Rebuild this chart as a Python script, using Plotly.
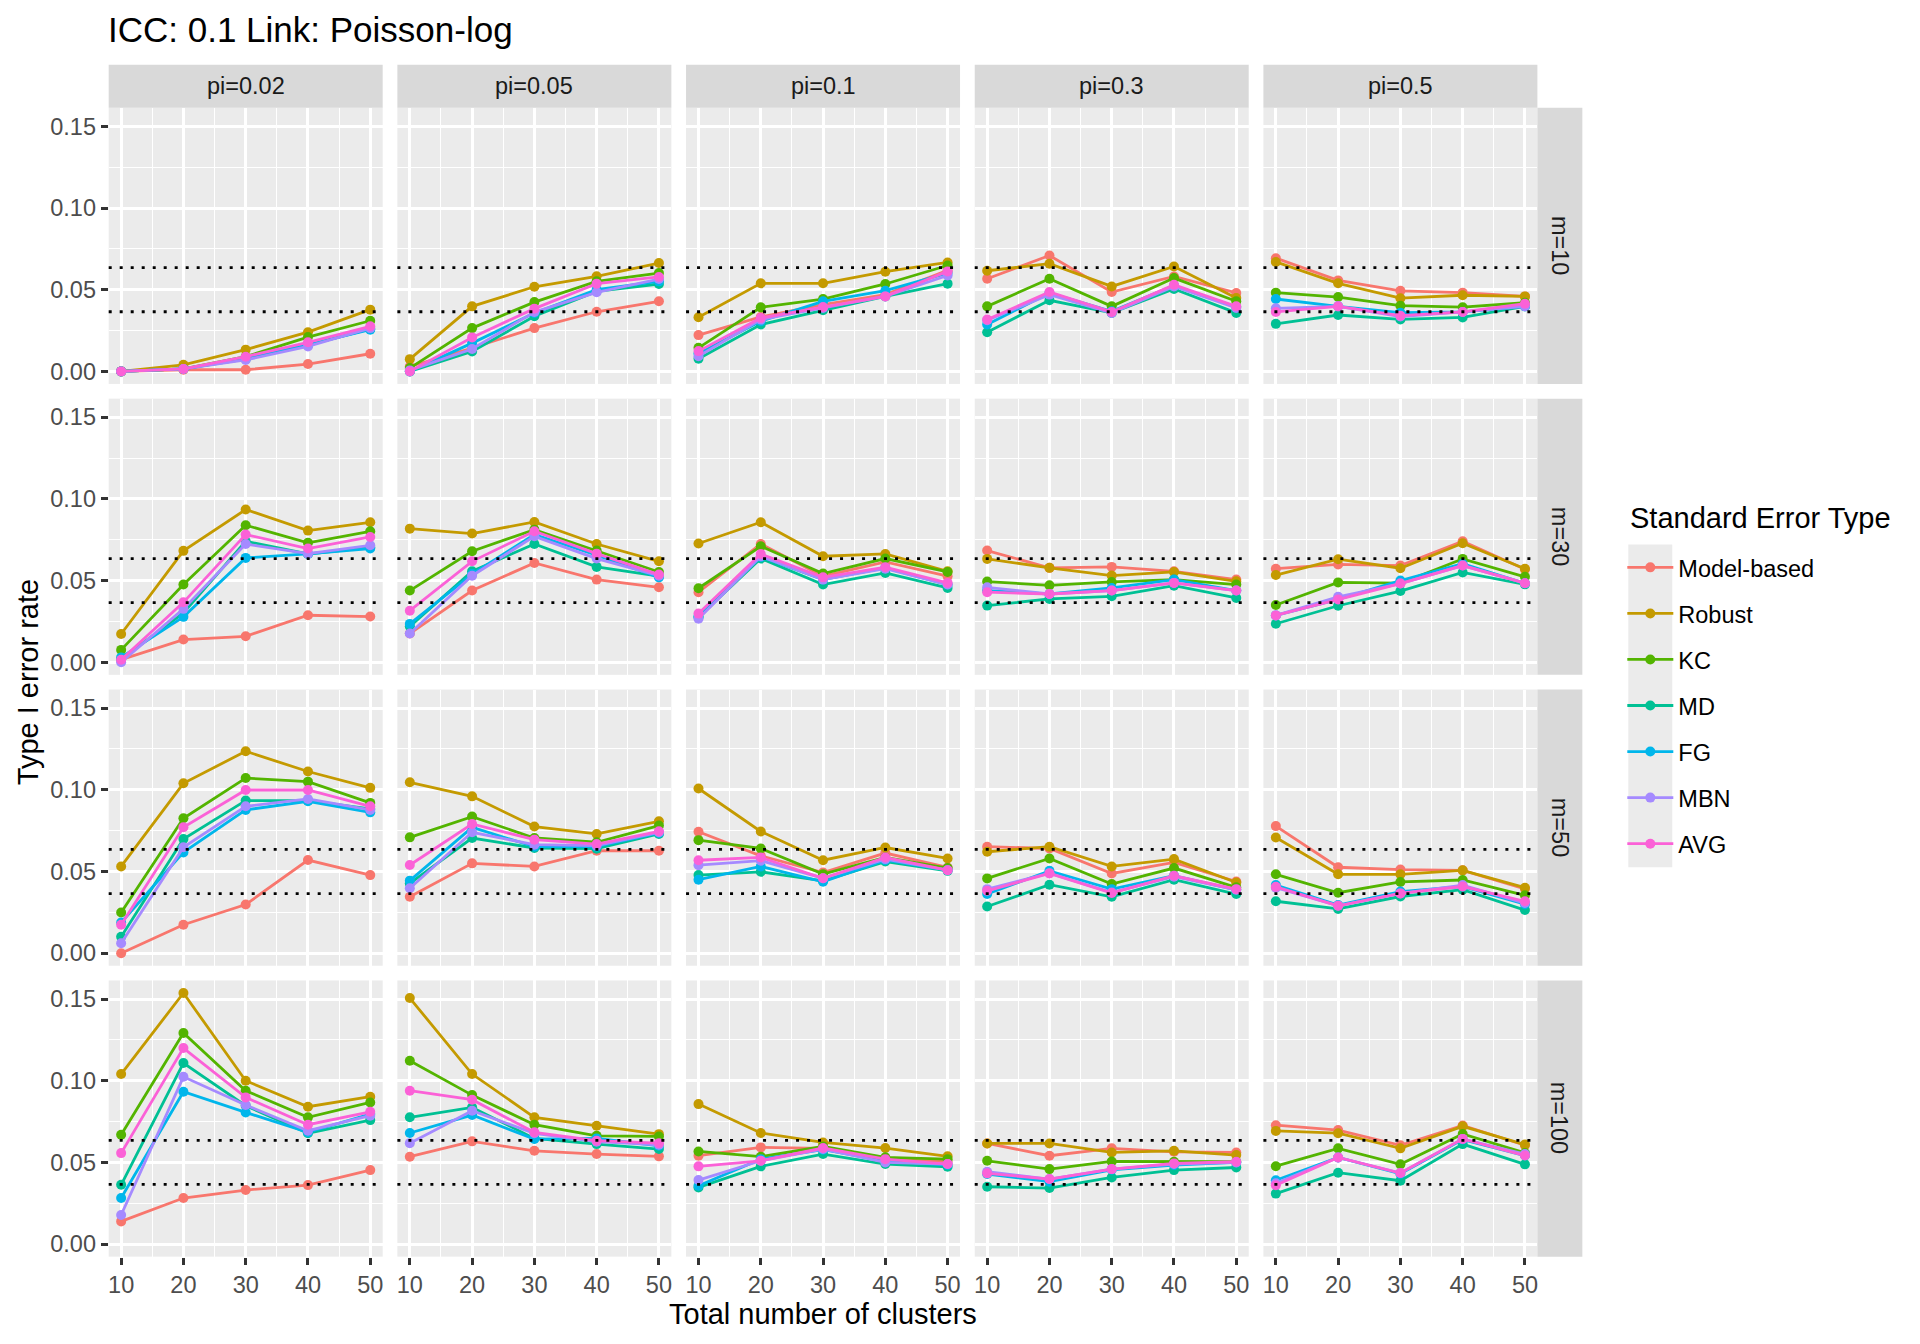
import plotly.graph_objects as go

# ---------------- data ----------------
CLUSTERS = [10, 20, 30, 40, 50]
PI_LEVELS = ["pi=0.02", "pi=0.05", "pi=0.1", "pi=0.3", "pi=0.5"]
M_LEVELS = ["m=10", "m=30", "m=50", "m=100"]
SE_TYPES = ["Model-based", "Robust", "KC", "MD", "FG", "MBN", "AVG"]
SE_COLORS = ["#F8766D", "#C49A00", "#53B400", "#00C094", "#00B6EB", "#A58AFF", "#FB61D7"]
NOMINAL_BOUNDS = [0.0365, 0.0635]
Y_TICKS = [0.0, 0.05, 0.10, 0.15]
Y_MINOR = [0.025, 0.075, 0.125]
X_MINOR = [15, 25, 35, 45]

# each series: rows m=10,30,50,100 ; within row: pi=0.02,0.05,0.1,0.3,0.5 ; values at 10..50 clusters
MODEL_BASED = [
    [[0, 0.001, 0.001, 0.0045, 0.0108], [0.003, 0.0143, 0.0265, 0.0365, 0.0429],
     [0.0222, 0.0333, 0.0409, 0.047, 0.0618], [0.0567, 0.0709, 0.0486, 0.0581, 0.048],
     [0.0693, 0.0557, 0.0493, 0.0482, 0.0459]],
    [[0.0016, 0.0139, 0.0159, 0.0288, 0.028], [0.0176, 0.0439, 0.0608, 0.0506, 0.0459],
     [0.0429, 0.0724, 0.0527, 0.0614, 0.0527], [0.0684, 0.0578, 0.0584, 0.0557, 0.0506],
     [0.0573, 0.0599, 0.0592, 0.0741, 0.0569]],
    [[0, 0.0174, 0.0298, 0.057, 0.0478], [0.0345, 0.055, 0.0531, 0.0627, 0.0627],
     [0.0743, 0.0596, 0.0494, 0.0613, 0.0525], [0.0652, 0.0641, 0.0488, 0.0556, 0.0439],
     [0.0778, 0.0526, 0.0512, 0.0507, 0.0394]],
    [[0.0139, 0.0282, 0.0331, 0.0361, 0.0453], [0.0535, 0.0629, 0.0571, 0.0551, 0.0537],
     [0.0541, 0.0592, 0.0586, 0.052, 0.0504], [0.0616, 0.0541, 0.0586, 0.0565, 0.0561],
     [0.0728, 0.0698, 0.0605, 0.0726, 0.0605]],
]
ROBUST = [
    [[0, 0.004, 0.0133, 0.024, 0.0378], [0.0075, 0.0398, 0.0518, 0.0582, 0.0663],
     [0.0331, 0.0539, 0.0539, 0.061, 0.0667], [0.0616, 0.0659, 0.052, 0.0642, 0.0449],
     [0.067, 0.0539, 0.0448, 0.0466, 0.0459]],
    [[0.0173, 0.0682, 0.0935, 0.0806, 0.0857], [0.0818, 0.0788, 0.0859, 0.0724, 0.0618],
     [0.0727, 0.0857, 0.0649, 0.0663, 0.0557], [0.0633, 0.0578, 0.0531, 0.0553, 0.0496],
     [0.0534, 0.0631, 0.0576, 0.0729, 0.0573]],
    [[0.0531, 0.104, 0.1236, 0.1112, 0.1012], [0.1046, 0.096, 0.0775, 0.073, 0.0807],
     [0.1008, 0.0745, 0.0569, 0.0647, 0.058], [0.0621, 0.0652, 0.0531, 0.0576, 0.0433],
     [0.0708, 0.0483, 0.0483, 0.0507, 0.0401]],
    [[0.1041, 0.1537, 0.1, 0.0841, 0.0902], [0.1506, 0.1041, 0.0776, 0.0724, 0.0673],
     [0.0857, 0.068, 0.0622, 0.0588, 0.0537], [0.0616, 0.0616, 0.0561, 0.0571, 0.0545],
     [0.0693, 0.0679, 0.0586, 0.0721, 0.0609]],
]
KC = [
    [[0, 0.0015, 0.009, 0.021, 0.031], [0.002, 0.0265, 0.0424, 0.0551, 0.0602],
     [0.0144, 0.0392, 0.0443, 0.0535, 0.0648], [0.0398, 0.0567, 0.0398, 0.0571, 0.0429],
     [0.0482, 0.0455, 0.0402, 0.0393, 0.042]],
    [[0.0076, 0.0476, 0.0839, 0.0731, 0.0802], [0.0439, 0.068, 0.0812, 0.0684, 0.0553],
     [0.0453, 0.071, 0.0543, 0.0635, 0.0553], [0.0494, 0.0471, 0.0492, 0.0506, 0.0476],
     [0.0351, 0.0489, 0.0484, 0.0633, 0.0523]],
    [[0.0249, 0.0826, 0.1072, 0.105, 0.092], [0.0709, 0.0836, 0.0705, 0.0679, 0.0781],
     [0.0692, 0.0641, 0.0484, 0.0586, 0.0521], [0.0458, 0.058, 0.0423, 0.0521, 0.0403],
     [0.0483, 0.037, 0.0436, 0.0448, 0.0354]],
    [[0.0669, 0.1292, 0.0939, 0.0776, 0.0867], [0.1122, 0.0912, 0.0731, 0.0663, 0.0659],
     [0.0567, 0.0535, 0.0598, 0.0531, 0.052], [0.051, 0.0459, 0.0506, 0.0504, 0.0504],
     [0.0477, 0.0586, 0.0488, 0.0674, 0.0558]],
]
MD = [
    [[0, 0.0015, 0.0075, 0.016, 0.026], [0, 0.0122, 0.0337, 0.049, 0.0535],
     [0.0077, 0.0287, 0.0374, 0.0459, 0.0537], [0.024, 0.0435, 0.0358, 0.0504, 0.0358],
     [0.0291, 0.0345, 0.0318, 0.033, 0.0398]],
    [[0.002, 0.0302, 0.0741, 0.0663, 0.0704], [0.022, 0.0557, 0.0724, 0.0584, 0.0527],
     [0.0276, 0.0635, 0.0476, 0.0547, 0.0455], [0.0347, 0.0388, 0.0404, 0.0469, 0.0394],
     [0.0236, 0.0346, 0.0436, 0.055, 0.0477]],
    [[0.01, 0.0699, 0.0934, 0.0934, 0.0883], [0.0427, 0.0705, 0.0644, 0.064, 0.073],
     [0.0478, 0.0498, 0.0443, 0.0561, 0.0504], [0.0286, 0.0419, 0.0345, 0.045, 0.0362],
     [0.0318, 0.0271, 0.0347, 0.0389, 0.0264]],
    [[0.0363, 0.1108, 0.0847, 0.0678, 0.0759], [0.0776, 0.0837, 0.0647, 0.0612, 0.0582],
     [0.0347, 0.0476, 0.0551, 0.049, 0.0473], [0.0351, 0.0343, 0.0408, 0.0453, 0.0469],
     [0.0309, 0.0437, 0.0388, 0.0612, 0.0488]],
]
FG = [
    [[0, 0.0015, 0.008, 0.0163, 0.0255], [0, 0.0173, 0.0357, 0.05, 0.0551],
     [0.011, 0.0307, 0.0429, 0.0494, 0.0602], [0.0287, 0.048, 0.0368, 0.0526, 0.0394],
     [0.0443, 0.0398, 0.0359, 0.0364, 0.0398]],
    [[0.003, 0.0278, 0.0639, 0.0663, 0.0696], [0.0235, 0.054, 0.0782, 0.0655, 0.052],
     [0.0282, 0.0645, 0.0506, 0.0578, 0.0476], [0.0439, 0.0418, 0.0455, 0.0506, 0.0439],
     [0.0287, 0.0385, 0.05, 0.0603, 0.0484]],
    [[0.0188, 0.0617, 0.0877, 0.093, 0.0862], [0.0444, 0.077, 0.0652, 0.0652, 0.0736],
     [0.045, 0.0531, 0.0437, 0.0569, 0.0508], [0.0362, 0.0504, 0.0392, 0.0474, 0.0388],
     [0.0417, 0.0295, 0.0377, 0.0408, 0.03]],
    [[0.0282, 0.0933, 0.0806, 0.0684, 0.0796], [0.068, 0.079, 0.0643, 0.0647, 0.0602],
     [0.0357, 0.052, 0.0578, 0.051, 0.0484], [0.0429, 0.0382, 0.0455, 0.0484, 0.05],
     [0.0391, 0.053, 0.043, 0.064, 0.0542]],
]
MBN = [
    [[0, 0.0015, 0.007, 0.0153, 0.0265], [0.0006, 0.0137, 0.0363, 0.0484, 0.0565],
     [0.0093, 0.0317, 0.0388, 0.0459, 0.0587], [0.0313, 0.047, 0.0358, 0.052, 0.0388],
     [0.0386, 0.0398, 0.0336, 0.0364, 0.0398]],
    [[0, 0.0327, 0.0724, 0.0665, 0.0716], [0.0176, 0.053, 0.0771, 0.0635, 0.053],
     [0.0267, 0.0649, 0.0506, 0.0573, 0.0476], [0.0459, 0.0418, 0.0439, 0.0486, 0.0439],
     [0.0287, 0.0401, 0.0482, 0.0592, 0.0484]],
    [[0.0061, 0.0648, 0.0899, 0.0944, 0.0877], [0.0398, 0.074, 0.0664, 0.0658, 0.074],
     [0.0539, 0.0566, 0.0459, 0.0576, 0.0508], [0.0392, 0.049, 0.0372, 0.0468, 0.0388],
     [0.0401, 0.029, 0.0366, 0.0417, 0.0307]],
    [[0.0178, 0.1024, 0.0851, 0.0694, 0.0786], [0.0618, 0.0816, 0.0678, 0.0627, 0.0608],
     [0.0392, 0.051, 0.0582, 0.05, 0.049], [0.0443, 0.0398, 0.0459, 0.049, 0.05],
     [0.0372, 0.053, 0.0435, 0.0644, 0.0551]],
]
AVG = [
    [[0, 0.0015, 0.009, 0.0178, 0.0276], [0, 0.0208, 0.0384, 0.0537, 0.0578],
     [0.0124, 0.0327, 0.0394, 0.0459, 0.0612], [0.0317, 0.0486, 0.0364, 0.053, 0.0398],
     [0.0364, 0.0398, 0.0341, 0.0364, 0.0414]],
    [[0.0016, 0.0367, 0.0782, 0.0696, 0.0767], [0.0316, 0.0618, 0.0802, 0.0665, 0.0537],
     [0.0298, 0.0663, 0.052, 0.0582, 0.0486], [0.0429, 0.0418, 0.0439, 0.0486, 0.0439],
     [0.0287, 0.0385, 0.0482, 0.0592, 0.0484]],
    [[0.0174, 0.0771, 0.0999, 0.0999, 0.0899], [0.054, 0.0791, 0.0695, 0.0668, 0.0746],
     [0.0569, 0.0586, 0.0459, 0.0586, 0.0508], [0.0382, 0.0488, 0.0368, 0.0474, 0.0392],
     [0.0406, 0.029, 0.0366, 0.0408, 0.0318]],
    [[0.0557, 0.12, 0.0898, 0.0731, 0.081], [0.0939, 0.0884, 0.0684, 0.0633, 0.0618],
     [0.0476, 0.051, 0.0588, 0.052, 0.049], [0.0433, 0.0398, 0.0459, 0.0494, 0.0504],
     [0.036, 0.053, 0.0435, 0.0644, 0.0542]],
]
SERIES = [MODEL_BASED, ROBUST, KC, MD, FG, MBN, AVG]

# ---------------- layout constants (page pixels) ----------------
PAGE_W, PAGE_H = 1920, 1344
BODY = 8                      # default browser body margin
W, H = PAGE_W - 2 * BODY, PAGE_H - 2 * BODY
FONT = "Liberation Sans, Arial, sans-serif"
PANEL_L, PANEL_R = 107.8, 1538.0
PANEL_T, PANEL_B = 107.8, 1257.6
GAP = 14.7
NC, NR = len(PI_LEVELS), len(M_LEVELS)
PW = (PANEL_R - PANEL_L - GAP * (NC - 1)) / NC
PH = (PANEL_B - PANEL_T - GAP * (NR - 1)) / NR
STRIP_H = 43.0
STRIP_W = 45.0
LW = 2.8
TICK_FS = 23.5
TITLE_FS = 35
AXT_FS = 29

def px(x):
    return (x - BODY) / W

def py(y):
    return 1 - (y - BODY) / H

all_vals = [v for s in SERIES for row in s for pan in row for v in pan]
lo, hi = min(all_vals), max(all_vals)
pad = 0.05 * (hi - lo)
YR = [lo - pad, hi + pad]
XR = [CLUSTERS[0] - 0.05 * (CLUSTERS[-1] - CLUSTERS[0]), CLUSTERS[-1] + 0.05 * (CLUSTERS[-1] - CLUSTERS[0])]

fig = go.Figure()
layout = {}
shapes = []
annotations = []

for r in range(NR):
    for c in range(NC):
        idx = r * NC + c + 1
        xa = "x" if idx == 1 else f"x{idx}"
        ya = "y" if idx == 1 else f"y{idx}"
        left = PANEL_L + c * (PW + GAP)
        top = PANEL_T + r * (PH + GAP)
        for k, name in enumerate(SE_TYPES):
            fig.add_trace(go.Scatter(
                x=CLUSTERS, y=SERIES[k][r][c], mode="lines+markers", name=name,
                line=dict(color=SE_COLORS[k], width=LW),
                marker=dict(color=SE_COLORS[k], size=10),
                xaxis=xa, yaxis=ya, legendgroup=name, showlegend=(idx == 1),
                hoverinfo="x+y+name"))
        bottom = r == NR - 1
        leftcol = c == 0
        layout["xaxis" if idx == 1 else f"xaxis{idx}"] = dict(
            domain=[px(left), px(left + PW)], anchor=ya, range=XR,
            tickvals=CLUSTERS, showticklabels=bottom,
            ticks="outside" if bottom else "", ticklen=7, tickwidth=LW, tickcolor="#333333",
            tickfont=dict(size=TICK_FS, color="#4D4D4D", family=FONT),
            showgrid=True, gridcolor="white", gridwidth=LW, zeroline=False, showline=False,
            minor=dict(tickvals=X_MINOR, showgrid=True, gridcolor="white", gridwidth=1.4, ticks=""),
            fixedrange=True)
        layout["yaxis" if idx == 1 else f"yaxis{idx}"] = dict(
            domain=[py(top + PH), py(top)], anchor=xa, range=YR,
            tickvals=Y_TICKS, tickformat=".2f", showticklabels=leftcol,
            ticks="outside" if leftcol else "", ticklen=7, tickwidth=LW, tickcolor="#333333",
            tickfont=dict(size=TICK_FS, color="#4D4D4D", family=FONT),
            showgrid=True, gridcolor="white", gridwidth=LW, zeroline=False, showline=False,
            minor=dict(tickvals=Y_MINOR, showgrid=True, gridcolor="white", gridwidth=1.4, ticks=""),
            fixedrange=True)
        for b in NOMINAL_BOUNDS:
            shapes.append(dict(type="line", xref=f"{xa} domain", yref=ya, x0=0, x1=1, y0=b, y1=b,
                               line=dict(color="black", width=LW, dash="3px,8px"), layer="above"))

# top strips
for c, lab in enumerate(PI_LEVELS):
    left = PANEL_L + c * (PW + GAP)
    shapes.append(dict(type="rect", xref="paper", yref="paper", x0=px(left), x1=px(left + PW),
                       y0=py(PANEL_T), y1=py(PANEL_T - STRIP_H), fillcolor="#D9D9D9", line=dict(width=0),
                       layer="below"))
    annotations.append(dict(text=lab, xref="paper", yref="paper", x=px(left + PW / 2),
                            y=py(PANEL_T - STRIP_H / 2), showarrow=False, xanchor="center", yanchor="middle",
                            font=dict(size=TICK_FS, color="#1A1A1A", family=FONT)))
# right strips
for r, lab in enumerate(M_LEVELS):
    top = PANEL_T + r * (PH + GAP)
    shapes.append(dict(type="rect", xref="paper", yref="paper", x0=px(PANEL_R), x1=px(PANEL_R + STRIP_W),
                       y0=py(top + PH), y1=py(top), fillcolor="#D9D9D9", line=dict(width=0), layer="below"))
    annotations.append(dict(text=lab, xref="paper", yref="paper", x=px(PANEL_R + STRIP_W / 2),
                            y=py(top + PH / 2), showarrow=False, xanchor="center", yanchor="middle",
                            textangle=90, font=dict(size=TICK_FS, color="#1A1A1A", family=FONT)))

# titles
annotations.append(dict(text="ICC: 0.1 Link: Poisson-log", xref="paper", yref="paper", x=px(PANEL_L - 3),
                        y=py(29.5), xanchor="left", yanchor="middle", showarrow=False,
                        font=dict(size=TITLE_FS, color="black", family=FONT)))
annotations.append(dict(text="Total number of clusters", xref="paper", yref="paper",
                        x=px((PANEL_L + PANEL_R) / 2), y=py(1315), xanchor="center", yanchor="middle",
                        showarrow=False, font=dict(size=AXT_FS, color="black", family=FONT)))
annotations.append(dict(text="Type I error rate", xref="paper", yref="paper", x=px(27),
                        y=py((PANEL_T + PANEL_B) / 2), xanchor="center", yanchor="middle", textangle=-90,
                        showarrow=False, font=dict(size=AXT_FS, color="black", family=FONT)))
annotations.append(dict(text="Standard Error Type", xref="paper", yref="paper", x=px(1629),
                        y=py(518), xanchor="left", yanchor="middle", showarrow=False,
                        font=dict(size=AXT_FS, color="black", family=FONT)))

# legend key background
shapes.append(dict(type="rect", xref="paper", yref="paper", x0=px(1629), x1=px(1673), y0=py(868), y1=py(545),
                   fillcolor="#EBEBEB", line=dict(width=0), layer="below"))

fig.update_layout(
    width=W, height=H, margin=dict(l=0, r=0, t=0, b=0),
    paper_bgcolor="white", plot_bgcolor="#EBEBEB",
    font=dict(family=FONT, color="black"),
    shapes=shapes, annotations=annotations,
    legend=dict(
        font=dict(size=TICK_FS, color="black", family=FONT),
        x=px(1623), xanchor="left", y=py(546), yanchor="top",
        bgcolor="rgba(0,0,0,0)", tracegroupgap=12.5, itemwidth=46),
    **layout,
)

fig.write_html("out.html")
